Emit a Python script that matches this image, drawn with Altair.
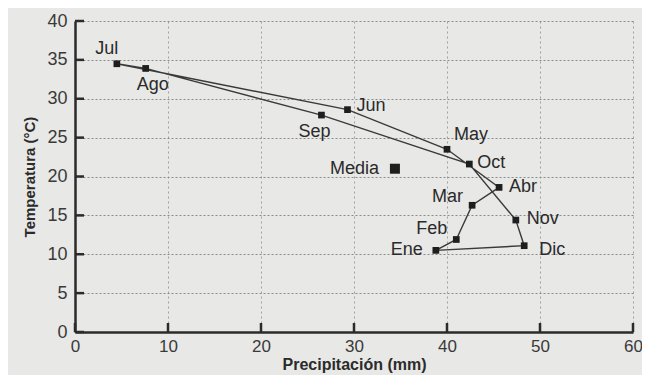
import altair as alt
import pandas as pd

# ---- data ----
months = ["Ene", "Feb", "Mar", "Abr", "May", "Jun", "Jul", "Ago", "Sep", "Oct", "Nov", "Dic"]
precip = [38.8, 41.0, 42.7, 45.6, 40.0, 29.3, 4.5, 7.6, 26.5, 42.4, 47.4, 48.3]
temp = [10.5, 11.9, 16.3, 18.6, 23.5, 28.6, 34.5, 33.9, 27.9, 21.6, 14.4, 11.1]
media_name = ["Media"]
media_precip = [34.4]
media_temp = [21.0]
x_ticks = [0, 10, 20, 30, 40, 50, 60]
y_ticks = [0, 5, 10, 15, 20, 25, 30, 35, 40]

# label placement (style): align, dx, dy
label_style = {
    "Jul": ("center", -10, -15),
    "Ago": ("center", 7, 17),
    "Jun": ("left", 9, -4),
    "Sep": ("center", -7, 17),
    "May": ("left", 7, -14),
    "Oct": ("left", 8, -1),
    "Abr": ("left", 10, 0),
    "Mar": ("right", -9, -8),
    "Nov": ("left", 11, -1),
    "Feb": ("right", -9, -10),
    "Ene": ("right", -13, 0),
    "Dic": ("left", 15, 4),
    "Media": ("right", -16, 0),
}

FONT = "Liberation Sans"
INK = "#2b2b2b"

df = pd.DataFrame({"mes": months, "p": precip, "t": temp, "orden": list(range(len(months)))})
loop = pd.concat([df, df.iloc[[0]].assign(orden=len(months))], ignore_index=True)
media = pd.DataFrame({"mes": media_name, "p": media_precip, "t": media_temp})
labels_df = pd.concat([df[["mes", "p", "t"]], media], ignore_index=True)
xt = pd.DataFrame({"xv": x_ticks, "xz": [0.0] * len(x_ticks)})
yt = pd.DataFrame({"yz": [0.0] * len(y_ticks), "yv": y_ticks})

xscale = alt.Scale(domain=[0, 60], nice=False, zero=True)
yscale = alt.Scale(domain=[0, 40], nice=False, zero=True)

xaxis = alt.Axis(values=x_ticks, title="Precipitación (mm)", grid=True, gridDash=[2, 3],
                 gridColor="#a0a0a0", gridWidth=1, ticks=False, domainColor=INK, domainWidth=2.5,
                 labelFont=FONT, labelFontSize=17, labelColor="#3a3a3a", labelPadding=6,
                 labelOverlap=False, labelFlush=False,
                 titleFont=FONT, titleFontSize=16, titleFontWeight="bold", titleColor=INK,
                 titlePadding=2)
yaxis = alt.Axis(values=y_ticks, title="Temperatura (°C)", grid=True, gridDash=[2, 2],
                 gridColor="#8a8a8a", gridWidth=1, ticks=False, domainColor=INK, domainWidth=2.5,
                 labelFont=FONT, labelFontSize=18, labelColor="#3a3a3a", labelPadding=8,
                 labelOverlap=False,
                 titleFont=FONT, titleFontSize=15, titleFontWeight="bold", titleColor=INK,
                 titlePadding=9)


def X(field="p"):
    return alt.X(f"{field}:Q", scale=xscale, axis=xaxis)


def Y(field="t"):
    return alt.Y(f"{field}:Q", scale=yscale, axis=yaxis)


line = alt.Chart(loop).mark_line(color="#3a3a3a", strokeWidth=1.4).encode(
    x=X(), y=Y(), order="orden:Q",
)
pts = alt.Chart(df).mark_square(size=45, color="#1e1e1e", opacity=1).encode(x=X(), y=Y())
mpt = alt.Chart(media).mark_square(size=100, color="#1e1e1e", opacity=1).encode(x=X(), y=Y())
# inward axis ticks
xtick = alt.Chart(xt).mark_rule(strokeWidth=2.5, color=INK, opacity=1, y2Offset=-9).encode(
    x=X("xv"), y=Y("xz"), y2="xz:Q")
ytick = alt.Chart(yt).mark_point(shape="M0,0H2", size=81, filled=False, stroke=INK,
                                 strokeWidth=2.5, opacity=1).encode(x=X("yz"), y=Y("yv"))

layers = [line, pts, mpt]
for name, (al, dx, dy) in label_style.items():
    layers.append(
        alt.Chart(labels_df).transform_filter(alt.datum.mes == name)
        .mark_text(font=FONT, fontSize=18, color="#2a2a2a", align=al, baseline="middle", dx=dx, dy=dy)
        .encode(x=X(), y=Y(), text="mes:N")
    )
layers += [xtick, ytick]

chart = alt.layer(*layers).properties(
    width=558, height=311,
    autosize=alt.AutoSizeParams(type="none"),
    padding={"left": 67, "top": 13, "right": 9, "bottom": 43},
    background="#e8e8e6",
).configure_view(stroke=None)

chart.save("out.html", embed_options={"renderer": "svg", "actions": False})
